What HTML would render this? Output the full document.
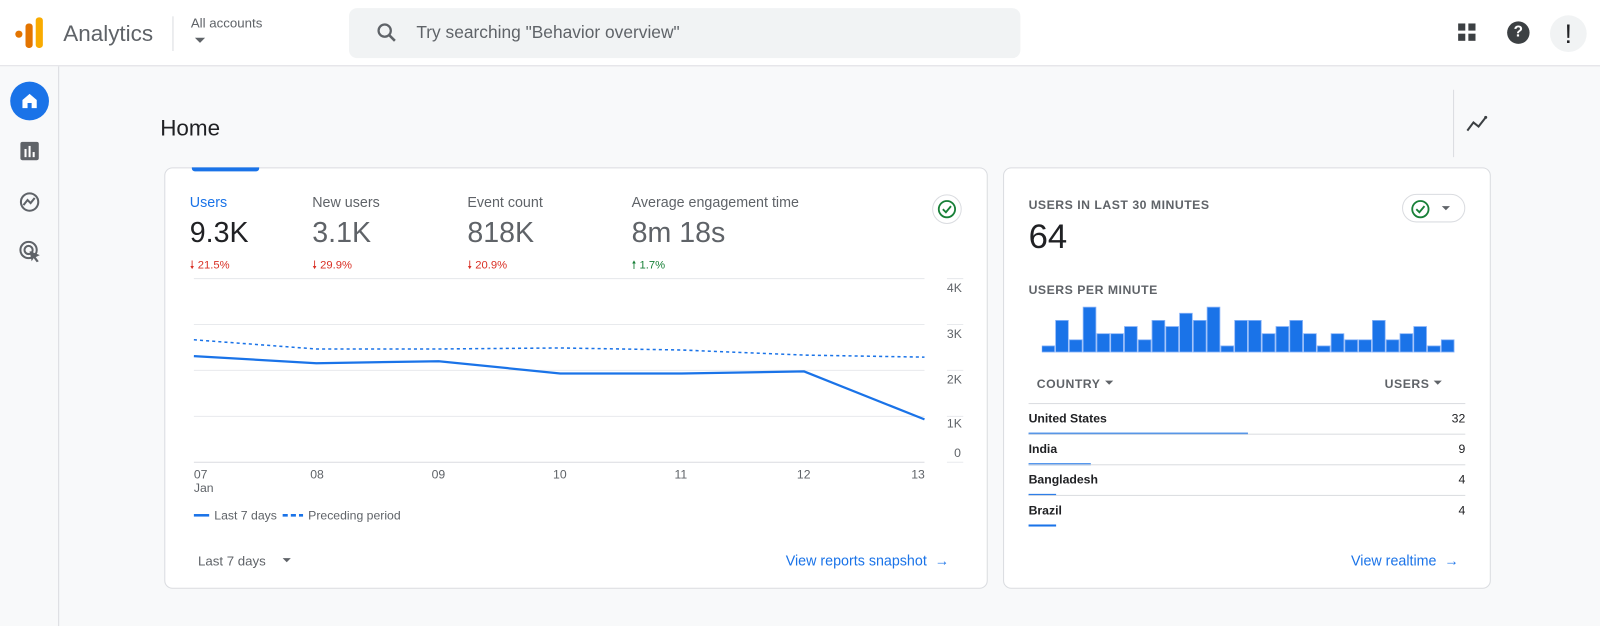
<!DOCTYPE html>
<html><head><meta charset="utf-8"><style>
*{box-sizing:border-box;margin:0;padding:0}
html,body{width:1600px;height:626px;overflow:hidden;background:#f8f9fa}
#w{width:1568px;height:614px;transform:scale(1.0204);transform-origin:0 0;position:relative;font-family:"Liberation Sans",sans-serif;color:#202124}
.abs{position:absolute}
.top{left:0;top:0;width:1568px;height:65px;background:#fff;border-bottom:1px solid #dadce0}
.side{left:0;top:65px;width:58px;height:561px;background:#f8f9fa;border-right:1px solid #dadce0}
.card{background:#fff;border:1px solid #dadce0;border-radius:8px}
.lbl{font-size:14px;color:#5f6368}
.big{font-size:28px;color:#5f6368}
.red{color:#d93025;font-size:11px}
.grn{color:#188038;font-size:11px}
.cap{font-size:12px;color:#5f6368;letter-spacing:.5px;font-weight:bold}
.row{left:1008px;width:428px;font-size:12px;color:#202124;font-weight:bold}
.link{color:#1a73e8;font-size:14px}
</style></head><body><div id="w">
<div class="abs top"></div>
<div class="abs" style="left:15px;top:30px;width:7px;height:7px;border-radius:50%;background:#e37400"></div>
<div class="abs" style="left:25px;top:23px;width:7px;height:24px;border-radius:3px;background:#e37400"></div>
<div class="abs" style="left:35px;top:17px;width:7px;height:30px;border-radius:3px;background:#f9ab00"></div>
<div class="abs" style="left:62px;top:20px;font-size:22px;color:#5f6368">Analytics</div>
<div class="abs" style="left:169px;top:16px;width:1px;height:34px;background:#dadce0"></div>
<div class="abs" style="left:187px;top:15px;font-size:13px;color:#5f6368">All accounts</div>
<div class="abs" style="left:191px;top:37px;border:5px solid transparent;border-top-color:#5f6368"></div>
<div class="abs" style="left:342px;top:8px;width:658px;height:49px;background:#f1f3f4;border-radius:8px"></div>
<svg class="abs" style="left:368px;top:21px" width="22" height="22"><circle cx="9" cy="9" r="6" fill="none" stroke="#5f6368" stroke-width="2.2"/><line x1="13" y1="13" x2="19" y2="19" stroke="#5f6368" stroke-width="2.5"/></svg>
<div class="abs" style="left:408px;top:22px;font-size:17px;color:#5f6368">Try searching "Behavior overview"</div>
<svg class="abs" style="left:1428px;top:22px" width="20" height="20"><rect x="1" y="1" width="7" height="7" fill="#3c4043"/><rect x="11" y="1" width="7" height="7" fill="#3c4043"/><rect x="1" y="11" width="7" height="7" fill="#3c4043"/><rect x="11" y="11" width="7" height="7" fill="#3c4043"/></svg>
<div class="abs" style="left:1477px;top:21px;width:22px;height:22px;border-radius:50%;background:#3c4043;color:#fff;font-size:15px;font-weight:bold;text-align:center;line-height:22px">?</div>
<div class="abs" style="left:1519px;top:15px;width:36px;height:36px;border-radius:50%;background:#f1f3f4;font-size:26px;text-align:center;line-height:36px">!</div>
<div class="abs side"></div>
<div class="abs" style="left:10px;top:80px;width:38px;height:38px;border-radius:50%;background:#1a73e8"></div>
<svg class="abs" style="left:18px;top:88px" width="22" height="22"><path d="M4 10 L11 4 L18 10 V18 H13 V13 H9 V18 H4Z" fill="#fff"/></svg>
<svg class="abs" style="left:19px;top:138px" width="20" height="20"><rect x="1" y="1" width="18" height="18" rx="2" fill="#5f6368"/><rect x="5" y="8" width="2" height="8" fill="#fff"/><rect x="9" y="5" width="2" height="11" fill="#fff"/><rect x="13" y="11" width="2" height="5" fill="#fff"/></svg>
<svg class="abs" style="left:18px;top:187px" width="22" height="22"><circle cx="11" cy="11" r="8.5" fill="none" stroke="#5f6368" stroke-width="2"/><path d="M5 14 L9 9 L12 12 L16 7" fill="none" stroke="#5f6368" stroke-width="2"/></svg>
<svg class="abs" style="left:18px;top:235px" width="24" height="24"><circle cx="10" cy="10" r="8" fill="none" stroke="#5f6368" stroke-width="2"/><circle cx="10" cy="10" r="4" fill="none" stroke="#5f6368" stroke-width="2"/><path d="M11 11 L21 15 L17 17 L20 21 L18 22 L15 18 L13 21Z" fill="#5f6368"/></svg>
<div class="abs" style="left:157px;top:113px;font-size:22px">Home</div>
<div class="abs" style="left:1424px;top:88px;width:1px;height:66px;background:#dadce0"></div>
<svg class="abs" style="left:1436px;top:110px" width="26" height="22"><path d="M2 18 L8 10 L13 14 L20 5" fill="none" stroke="#3c4043" stroke-width="2"/><circle cx="20" cy="5" r="1.5" fill="#3c4043"/></svg>

<div class="abs card" style="left:161px;top:164px;width:807px;height:413px"></div>
<div class="abs" style="left:188px;top:164px;width:66px;height:4px;background:#1a73e8;border-radius:0 0 3px 3px"></div>
<div class="abs lbl" style="left:186px;top:190px;color:#1a73e8">Users</div>
<div class="abs big" style="left:186px;top:212px;color:#202124">9.3K</div>
<div class="abs red" style="left:186px;top:251px">🠗 21.5%</div>
<div class="abs lbl" style="left:306px;top:190px">New users</div>
<div class="abs big" style="left:306px;top:212px">3.1K</div>
<div class="abs red" style="left:306px;top:251px">🠗 29.9%</div>
<div class="abs lbl" style="left:458px;top:190px">Event count</div>
<div class="abs big" style="left:458px;top:212px">818K</div>
<div class="abs red" style="left:458px;top:251px">🠗 20.9%</div>
<div class="abs lbl" style="left:619px;top:190px">Average engagement time</div>
<div class="abs big" style="left:619px;top:212px">8m 18s</div>
<div class="abs grn" style="left:619px;top:251px">🠕 1.7%</div>
<svg class="abs" style="left:913px;top:190px" width="30" height="30"><circle cx="15" cy="15" r="14" fill="#fff" stroke="#dadce0"/><circle cx="15" cy="15" r="8" fill="none" stroke="#188038" stroke-width="1.8"/><path d="M11 15 L14 18 L19 12" fill="none" stroke="#188038" stroke-width="1.8"/></svg>
<svg class="abs" style="left:0;top:0" width="1568" height="614">
<g stroke="#e8eaed" stroke-width="1"><line x1="190" y1="273" x2="906" y2="273"/><line x1="190" y1="318" x2="906" y2="318"/><line x1="190" y1="363" x2="906" y2="363"/><line x1="190" y1="408" x2="906" y2="408"/><line x1="190" y1="453" x2="906" y2="453" stroke="#dadce0"/>
<line x1="928" y1="273" x2="944" y2="273"/><line x1="928" y1="318" x2="944" y2="318"/><line x1="928" y1="363" x2="944" y2="363"/><line x1="928" y1="408" x2="944" y2="408"/><line x1="928" y1="453" x2="944" y2="453"/></g>
<g font-size="12" fill="#5f6368" font-family="Liberation Sans,sans-serif"><text x="928" y="286">4K</text><text x="928" y="331">3K</text><text x="928" y="376">2K</text><text x="928" y="419">1K</text><text x="935" y="448">0</text>
<text x="190" y="469">07</text><text x="190" y="482">Jan</text><text x="304" y="469">08</text><text x="423" y="469">09</text><text x="542" y="469">10</text><text x="661" y="469">11</text><text x="781" y="469">12</text><text x="893" y="469">13</text>
<text x="210" y="509">Last 7 days</text><text x="302" y="509">Preceding period</text></g>
<polyline points="190,333 310,342 430,342 549,341 668,343 788,348 906,350" fill="none" stroke="#1a73e8" stroke-width="1.5" stroke-dasharray="3,3"/>
<polyline points="190,349 310,356 430,354 549,366 668,366 788,364 906,411" fill="none" stroke="#1a73e8" stroke-width="2.2"/>
<line x1="190" y1="505" x2="205" y2="505" stroke="#1a73e8" stroke-width="2.5"/>
<line x1="277" y1="505" x2="297" y2="505" stroke="#1a73e8" stroke-width="2.5" stroke-dasharray="5,3"/>
</svg>
<div class="abs" style="left:194px;top:542px;font-size:13px;color:#5f6368">Last 7 days</div>
<div class="abs" style="left:277px;top:547px;border:4px solid transparent;border-top-color:#5f6368"></div>
<div class="abs link" style="left:770px;top:541px">View reports snapshot &nbsp;→</div>

<div class="abs card" style="left:983px;top:164px;width:478px;height:413px"></div>
<div class="abs cap" style="left:1008px;top:194px">USERS IN LAST 30 MINUTES</div>
<div class="abs" style="left:1008px;top:213px;font-size:34px">64</div>
<div class="abs" style="left:1374px;top:190px;width:62px;height:28px;border:1px solid #dadce0;border-radius:14px"></div>
<svg class="abs" style="left:1381px;top:194px" width="22" height="22"><circle cx="11" cy="11" r="8" fill="none" stroke="#188038" stroke-width="1.8"/><path d="M7 11 L10 14 L15 8" fill="none" stroke="#188038" stroke-width="1.8"/></svg>
<div class="abs" style="left:1413px;top:202px;border:4px solid transparent;border-top-color:#5f6368"></div>
<div class="abs cap" style="left:1008px;top:277px">USERS PER MINUTE</div>
<svg class="abs" style="left:1021px;top:290px" width="410" height="56">
<g fill="#1a73e8" stroke="#8ab4f8" stroke-width="0.8">
<rect x="0" y="49" width="12.5" height="6"/><rect x="13.5" y="24" width="12.5" height="31"/><rect x="27" y="43" width="12.5" height="12"/><rect x="40.5" y="11" width="12.5" height="44"/><rect x="54" y="37" width="12.5" height="18"/><rect x="67.5" y="37" width="12.5" height="18"/><rect x="81" y="30" width="12.5" height="25"/><rect x="94.5" y="43" width="12.5" height="12"/><rect x="108" y="24" width="12.5" height="31"/><rect x="121.5" y="30" width="12.5" height="25"/><rect x="135" y="17" width="12.5" height="38"/><rect x="148.5" y="24" width="12.5" height="31"/><rect x="162" y="11" width="12.5" height="44"/><rect x="175.5" y="49" width="12.5" height="6"/><rect x="189" y="24" width="12.5" height="31"/><rect x="202.5" y="24" width="12.5" height="31"/><rect x="216" y="37" width="12.5" height="18"/><rect x="229.5" y="30" width="12.5" height="25"/><rect x="243" y="24" width="12.5" height="31"/><rect x="256.5" y="37" width="12.5" height="18"/><rect x="270" y="49" width="12.5" height="6"/><rect x="283.5" y="37" width="12.5" height="18"/><rect x="297" y="43" width="12.5" height="12"/><rect x="310.5" y="43" width="12.5" height="12"/><rect x="324" y="24" width="12.5" height="31"/><rect x="337.5" y="43" width="12.5" height="12"/><rect x="351" y="37" width="12.5" height="18"/><rect x="364.5" y="30" width="12.5" height="25"/><rect x="378" y="49" width="12.5" height="6"/><rect x="391.5" y="43" width="12.5" height="12"/>
</g></svg>
<div class="abs cap" style="left:1016px;top:369px">COUNTRY</div>
<div class="abs" style="left:1083px;top:373px;border:4px solid transparent;border-top-color:#5f6368"></div>
<div class="abs cap" style="left:1357px;top:369px">USERS</div>
<div class="abs" style="left:1405px;top:373px;border:4px solid transparent;border-top-color:#5f6368"></div>
<div class="abs" style="left:1008px;top:395px;width:428px;height:1px;background:#dadce0"></div>
<div class="abs row" style="top:403px">United States<span style="float:right;font-weight:normal">32</span></div>
<div class="abs" style="left:1008px;top:424px;width:215px;height:2px;background:#1a73e8"></div>
<div class="abs" style="left:1008px;top:425px;width:428px;height:1px;background:#dadce0"></div>
<div class="abs row" style="top:433px">India<span style="float:right;font-weight:normal">9</span></div>
<div class="abs" style="left:1008px;top:454px;width:61px;height:2px;background:#1a73e8"></div>
<div class="abs" style="left:1008px;top:455px;width:428px;height:1px;background:#dadce0"></div>
<div class="abs row" style="top:463px">Bangladesh<span style="float:right;font-weight:normal">4</span></div>
<div class="abs" style="left:1008px;top:484px;width:27px;height:2px;background:#1a73e8"></div>
<div class="abs" style="left:1008px;top:485px;width:428px;height:1px;background:#dadce0"></div>
<div class="abs row" style="top:493px">Brazil<span style="float:right;font-weight:normal">4</span></div>
<div class="abs" style="left:1008px;top:514px;width:27px;height:2px;background:#1a73e8"></div>
<div class="abs link" style="left:1324px;top:541px">View realtime &nbsp;→</div>
</div></body></html>
